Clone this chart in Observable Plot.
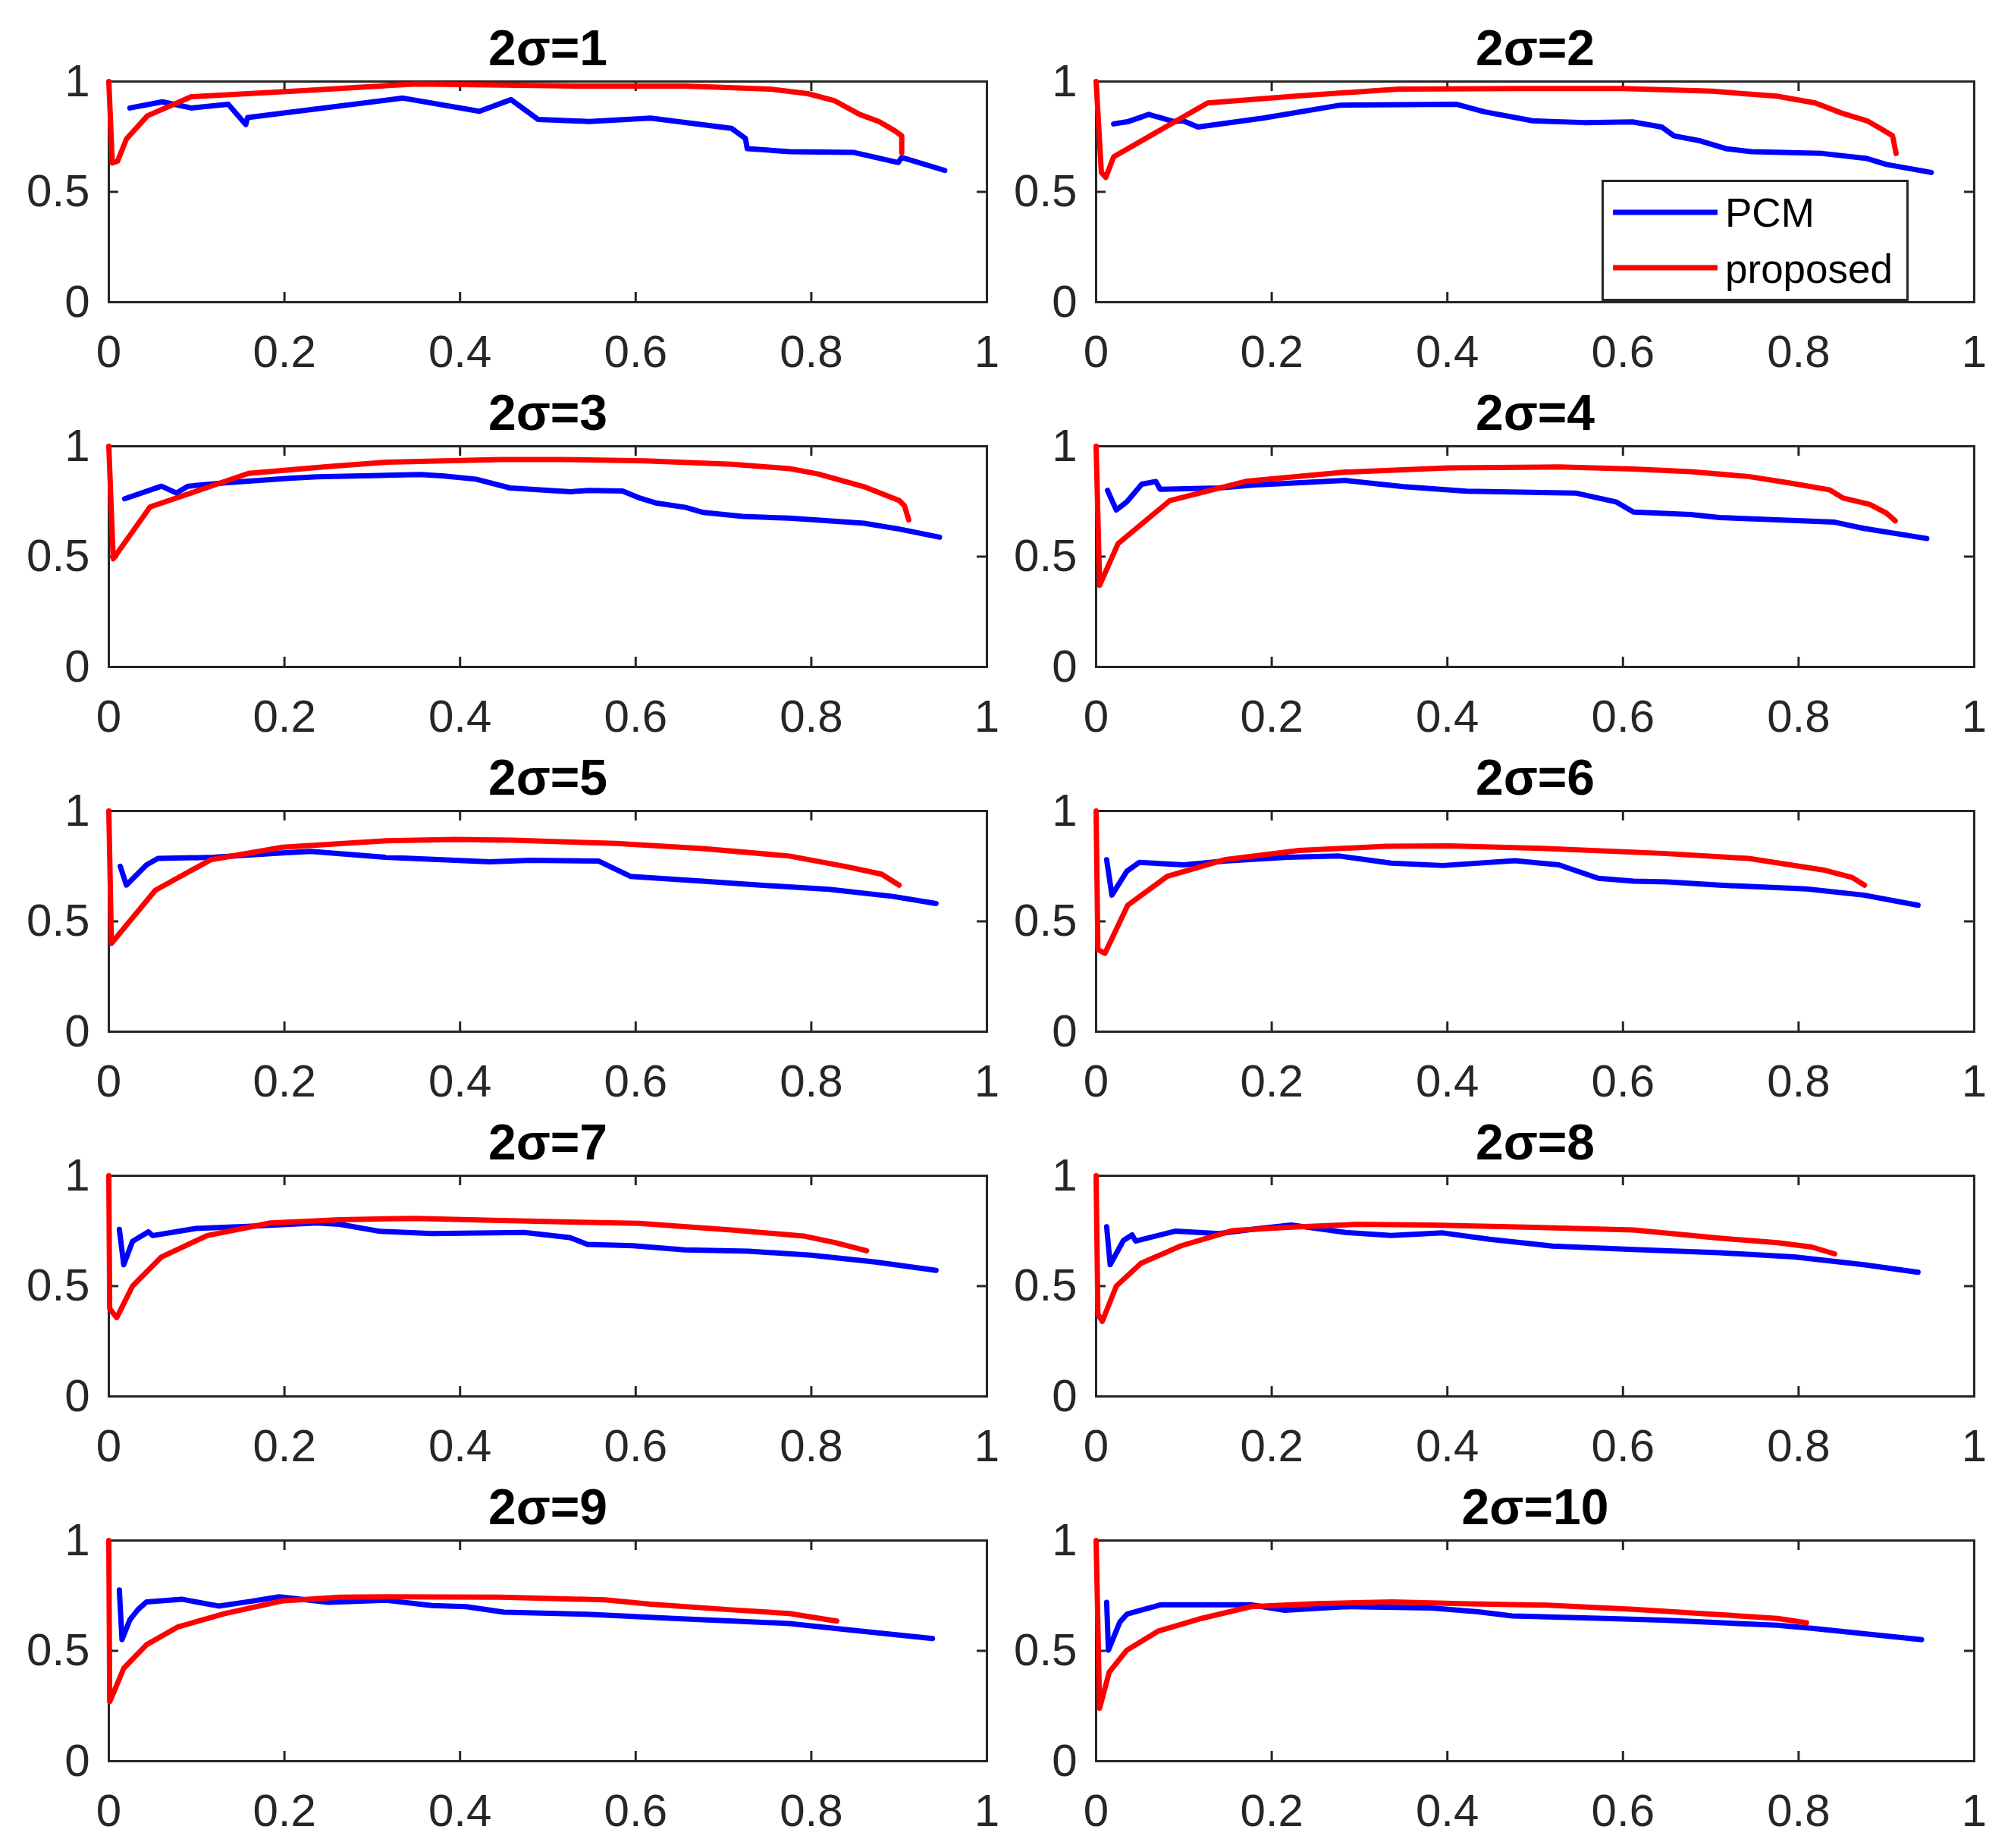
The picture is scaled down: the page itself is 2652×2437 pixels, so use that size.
<!DOCTYPE html>
<html>
<head>
<meta charset="utf-8">
<script src="https://cdn.jsdelivr.net/npm/d3@7"></script>
<script src="https://cdn.jsdelivr.net/npm/@observablehq/plot@0.6"></script>
<style>
html, body { margin: 0; padding: 0; background: #fff; }
#page { position: relative; width: 2652px; height: 2437px; background: #fff; overflow: hidden; font-family: "Liberation Sans", Arial, sans-serif; }
.panel { position: absolute; }
#legend { position: absolute; left: 2112px; top: 237px; }
</style>
</head>
<body>
<div id="page"></div>
<script>
// ---- data ----
const titles = ["2σ=1", "2σ=2", "2σ=3", "2σ=4", "2σ=5", "2σ=6", "2σ=7", "2σ=8", "2σ=9", "2σ=10"];
const seriesNames = ["PCM", "proposed"];
const xTicks = [0, 0.2, 0.4, 0.6, 0.8, 1];
const yTicks = [0, 0.5, 1];

const pcm1 = [[0.024,0.88],[0.061,0.908],[0.094,0.88],[0.136,0.897],[0.156,0.805],[0.158,0.837],[0.335,0.925],[0.422,0.865],[0.458,0.918],[0.489,0.828],[0.547,0.819],[0.617,0.834],[0.709,0.788],[0.725,0.742],[0.727,0.696],[0.775,0.682],[0.848,0.679],[0.899,0.633],[0.903,0.656],[0.952,0.597]];
const prop1 = [[0,1],[0.004,0.631],[0.01,0.639],[0.02,0.739],[0.044,0.845],[0.094,0.931],[0.225,0.96],[0.35,0.989],[0.533,0.979],[0.657,0.979],[0.753,0.966],[0.796,0.945],[0.826,0.914],[0.855,0.851],[0.877,0.819],[0.895,0.777],[0.903,0.754],[0.903,0.679]];

const pcm2 = [[0.02,0.808],[0.037,0.819],[0.06,0.851],[0.088,0.819],[0.099,0.822],[0.116,0.794],[0.19,0.834],[0.278,0.893],[0.41,0.897],[0.442,0.863],[0.497,0.822],[0.556,0.814],[0.611,0.817],[0.644,0.794],[0.658,0.754],[0.688,0.731],[0.717,0.696],[0.746,0.682],[0.827,0.674],[0.878,0.651],[0.9,0.624],[0.951,0.588]];
const prop2 = [[0,1],[0.006,0.588],[0.011,0.565],[0.02,0.659],[0.127,0.903],[0.227,0.934],[0.344,0.966],[0.483,0.968],[0.6,0.968],[0.702,0.956],[0.775,0.934],[0.819,0.903],[0.849,0.857],[0.878,0.822],[0.893,0.788],[0.907,0.754],[0.911,0.674]];

const pcm3 = [[0.018,0.762],[0.06,0.819],[0.077,0.788],[0.09,0.819],[0.132,0.834],[0.205,0.855],[0.237,0.862],[0.31,0.868],[0.355,0.872],[0.382,0.865],[0.418,0.851],[0.457,0.811],[0.526,0.794],[0.546,0.8],[0.585,0.797],[0.605,0.765],[0.624,0.742],[0.657,0.723],[0.677,0.7],[0.722,0.682],[0.775,0.674],[0.86,0.651],[0.9,0.625],[0.946,0.588]];
const prop3 = [[0,1],[0.005,0.49],[0.047,0.725],[0.159,0.877],[0.25,0.908],[0.316,0.928],[0.447,0.94],[0.513,0.94],[0.611,0.934],[0.71,0.918],[0.775,0.899],[0.808,0.874],[0.86,0.817],[0.9,0.754],[0.906,0.731],[0.911,0.666]];

const pcm4 = [[0.013,0.80],[0.023,0.711],[0.035,0.748],[0.052,0.828],[0.068,0.84],[0.073,0.805],[0.14,0.811],[0.186,0.826],[0.284,0.845],[0.35,0.817],[0.422,0.796],[0.546,0.788],[0.592,0.748],[0.612,0.702],[0.677,0.691],[0.71,0.677],[0.841,0.656],[0.874,0.628],[0.946,0.582]];
const prop4 = [[0,1],[0.004,0.37],[0.025,0.559],[0.084,0.754],[0.172,0.842],[0.284,0.883],[0.402,0.902],[0.527,0.906],[0.612,0.897],[0.677,0.885],[0.743,0.863],[0.789,0.834],[0.835,0.803],[0.851,0.765],[0.881,0.737],[0.9,0.697],[0.91,0.662]];

const pcm5 = [[0.013,0.75],[0.02,0.664],[0.043,0.756],[0.056,0.785],[0.119,0.79],[0.198,0.81],[0.23,0.817],[0.315,0.79],[0.434,0.77],[0.48,0.777],[0.558,0.773],[0.594,0.704],[0.676,0.682],[0.742,0.664],[0.82,0.645],[0.893,0.613],[0.942,0.581]];
const prop5 = [[0,1],[0.003,0.40],[0.053,0.641],[0.116,0.779],[0.198,0.836],[0.316,0.865],[0.394,0.871],[0.46,0.868],[0.578,0.853],[0.676,0.83],[0.775,0.796],[0.84,0.748],[0.88,0.714],[0.9,0.664]];

const pcm6 = [[0.012,0.779],[0.018,0.619],[0.035,0.727],[0.049,0.767],[0.1,0.756],[0.146,0.773],[0.218,0.79],[0.277,0.796],[0.336,0.764],[0.395,0.753],[0.477,0.775],[0.527,0.756],[0.572,0.695],[0.612,0.682],[0.651,0.679],[0.71,0.664],[0.809,0.647],[0.874,0.619],[0.936,0.573]];
const prop6 = [[0,1],[0.002,0.372],[0.01,0.355],[0.036,0.573],[0.081,0.704],[0.146,0.779],[0.231,0.821],[0.33,0.84],[0.402,0.842],[0.513,0.83],[0.645,0.808],[0.743,0.785],[0.828,0.733],[0.861,0.699],[0.875,0.664]];

const pcm7 = [[0.012,0.757],[0.017,0.597],[0.027,0.703],[0.045,0.746],[0.05,0.729],[0.099,0.761],[0.158,0.771],[0.237,0.786],[0.263,0.78],[0.309,0.748],[0.368,0.738],[0.473,0.743],[0.525,0.72],[0.545,0.689],[0.597,0.683],[0.656,0.664],[0.729,0.658],[0.80,0.64],[0.873,0.609],[0.942,0.571]];
const prop7 = [[0,1],[0.001,0.397],[0.009,0.357],[0.027,0.5],[0.06,0.632],[0.112,0.729],[0.184,0.786],[0.263,0.801],[0.348,0.807],[0.447,0.797],[0.604,0.784],[0.709,0.754],[0.791,0.727],[0.827,0.697],[0.863,0.66]];

const pcm8 = [[0.012,0.769],[0.016,0.597],[0.031,0.706],[0.041,0.732],[0.045,0.704],[0.09,0.749],[0.14,0.738],[0.186,0.761],[0.222,0.777],[0.284,0.743],[0.336,0.729],[0.395,0.741],[0.448,0.712],[0.52,0.681],[0.612,0.666],[0.71,0.651],[0.795,0.632],[0.874,0.597],[0.936,0.563]];
const prop8 = [[0,1],[0.002,0.374],[0.007,0.34],[0.023,0.5],[0.051,0.603],[0.097,0.683],[0.156,0.752],[0.218,0.766],[0.297,0.78],[0.382,0.777],[0.514,0.765],[0.612,0.754],[0.71,0.717],[0.776,0.697],[0.815,0.677],[0.841,0.646]];

const pcm9 = [[0.012,0.776],[0.015,0.551],[0.024,0.641],[0.033,0.686],[0.043,0.722],[0.083,0.734],[0.125,0.703],[0.158,0.722],[0.194,0.745],[0.25,0.72],[0.316,0.729],[0.368,0.705],[0.407,0.70],[0.45,0.675],[0.545,0.666],[0.643,0.647],[0.775,0.624],[0.84,0.596],[0.938,0.556]];
const prop9 = [[0,1],[0.001,0.269],[0.004,0.297],[0.017,0.421],[0.043,0.528],[0.079,0.609],[0.132,0.669],[0.197,0.726],[0.263,0.743],[0.315,0.745],[0.447,0.743],[0.565,0.731],[0.617,0.711],[0.709,0.686],[0.775,0.669],[0.829,0.635]];

const pcm10 = [[0.012,0.72],[0.014,0.503],[0.027,0.63],[0.035,0.666],[0.051,0.684],[0.074,0.709],[0.176,0.709],[0.215,0.684],[0.284,0.70],[0.382,0.694],[0.435,0.677],[0.474,0.658],[0.579,0.647],[0.645,0.639],[0.776,0.616],[0.815,0.602],[0.94,0.551]];
const prop10 = [[0,1],[0.004,0.24],[0.015,0.404],[0.035,0.503],[0.071,0.59],[0.12,0.647],[0.176,0.70],[0.251,0.714],[0.337,0.722],[0.415,0.714],[0.514,0.707],[0.612,0.688],[0.71,0.664],[0.776,0.647],[0.809,0.627]];

const pcmSeries = [pcm1, pcm2, pcm3, pcm4, pcm5, pcm6, pcm7, pcm8, pcm9, pcm10];
const propSeries = [prop1, prop2, prop3, prop4, prop5, prop6, prop7, prop8, prop9, prop10];

// ---- styling / layout ----
const BLUE = "#0000ff", RED = "#ff0000", AXIS = "#262626";
const FONT = '"Liberation Sans", Arial, Helvetica, sans-serif';
const CELL_W = 1326, CELL_H = 481;
const MT = 107, MB = 83;
const PLOT_W = 1158, PLOT_H = CELL_H - MT - MB;
const TICK = 13;
const LW = 7;

const page = document.getElementById("page");

titles.forEach((title, i) => {
  const col = i % 2, row = Math.floor(i / 2);
  const ml = col ? 119 : 143;
  const mr = CELL_W - ml - PLOT_W;
  const pcm = pcmSeries[i].map(([x, y]) => ({x, y, s: seriesNames[0]}));
  const prop = propSeries[i].map(([x, y]) => ({x, y, s: seriesNames[1]}));

  const chart = Plot.plot({
    width: CELL_W,
    height: CELL_H,
    marginLeft: ml,
    marginRight: mr,
    marginTop: MT,
    marginBottom: MB,
    x: {domain: [0, 1], label: null},
    y: {domain: [0, 1], label: null},
    style: {background: "transparent", overflow: "visible", fontFamily: FONT, color: AXIS, fontSize: "60px"},
    marks: [
      Plot.frame({stroke: AXIS, strokeWidth: 3}),
      // inward ticks on all four sides (MATLAB box style)
      Plot.tickX(xTicks, {x: d => d, stroke: AXIS, strokeWidth: 3, insetTop: PLOT_H - TICK}),
      Plot.tickX(xTicks, {x: d => d, stroke: AXIS, strokeWidth: 3, insetBottom: PLOT_H - TICK}),
      Plot.tickY(yTicks, {y: d => d, stroke: AXIS, strokeWidth: 3, insetRight: PLOT_W - TICK}),
      Plot.tickY(yTicks, {y: d => d, stroke: AXIS, strokeWidth: 3, insetLeft: PLOT_W - TICK}),
      Plot.axisX(xTicks, {tickSize: 0, tickPadding: 43, fontSize: 60, tickFormat: d => String(d), label: null}),
      Plot.axisY(yTicks, {tickSize: 0, tickPadding: 25, fontSize: 60, tickFormat: d => String(d), label: null}),
      Plot.line(pcm, {x: "x", y: "y", stroke: BLUE, strokeWidth: LW, strokeLinejoin: "round"}),
      Plot.line(prop, {x: "x", y: "y", stroke: RED, strokeWidth: LW, strokeLinejoin: "round"}),
      Plot.text([title], {text: d => d, frameAnchor: "top", lineAnchor: "middle", dy: -43, fontSize: 66, fontWeight: "bold", fill: "#000"})
    ]
  });
  const wrap = document.createElement("div");
  wrap.className = "panel";
  wrap.style.left = (col * CELL_W) + "px";
  wrap.style.top = (row * CELL_H) + "px";
  wrap.appendChild(chart);
  page.appendChild(wrap);
});

// ---- legend (inside panel 2) ----
const lg = d3.select(page).append("svg")
  .attr("id", "legend")
  .attr("width", 405).attr("height", 160)
  .style("font-family", FONT);
lg.append("rect").attr("x", 1.5).attr("y", 1.5).attr("width", 402).attr("height", 157)
  .attr("fill", "#fff").attr("stroke", AXIS).attr("stroke-width", 3);
const legendItems = [
  {name: seriesNames[0], color: BLUE, ly: 43, ty: 62},
  {name: seriesNames[1], color: RED, ly: 116, ty: 136}
];
legendItems.forEach(it => {
  lg.append("line").attr("x1", 15).attr("x2", 153).attr("y1", it.ly).attr("y2", it.ly)
    .attr("stroke", it.color).attr("stroke-width", LW);
  lg.append("text").attr("x", 163).attr("y", it.ty).attr("font-size", 53).attr("fill", "#000").text(it.name);
});
</script>
</body>
</html>
